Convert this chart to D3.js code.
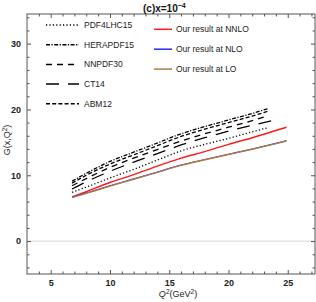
<!DOCTYPE html>
<html lang="en">
<head>
<meta charset="UTF-8">
<title>G(x,Q2)</title>
<script src="https://d3js.org/d3.v7.min.js"></script>
<style>
  body { margin: 0; background: #fff; }
  text { font-family: "Liberation Sans", Arial, sans-serif; }
</style>
</head>
<body>
<div id="chart"></div>
<script>
// data
var q2Pdf = [6.8, 8, 10, 12, 14, 16, 18, 20, 22, 23.3];
var pdf4lhc15 = [7.4, 8.2, 9.6, 10.9, 12.3, 13.7, 14.7, 15.6, 16.6, 17.2];
var herapdf15 = [9.1, 10.3, 12.1, 13.5, 14.9, 16.3, 17.4, 18.4, 19.4, 20.1];
var nnpdf30   = [8.4, 9.5, 11.2, 12.6, 13.9, 15.2, 16.3, 17.3, 18.3, 19.0];
var abm12     = [8.8, 10.0, 11.7, 13.1, 14.5, 15.9, 17.0, 18.0, 19.0, 19.7];
var q2Ct14 = [6.8, 8, 10, 12, 14, 16, 18, 20, 22, 24.2];
var ct14   = [7.9, 9.0, 10.6, 12.0, 13.3, 14.6, 15.7, 16.7, 17.6, 18.5];

var q2Ours = [6.8, 8, 10, 12, 14, 16, 18, 20, 22, 24, 24.9];
var nnlo = [6.7, 7.5, 8.9, 10.1, 11.4, 12.6, 13.6, 14.7, 15.7, 16.8, 17.3];
var nlo  = [6.65, 7.3, 8.4, 9.45, 10.5, 11.55, 12.4, 13.2, 14.0, 14.85, 15.25];
var lo   = [6.6, 7.25, 8.35, 9.4, 10.45, 11.5, 12.35, 13.15, 13.95, 14.8, 15.2];

var xTicks = [5, 10, 15, 20, 25];
var yTicks = [0, 10, 20, 30];

var pdfSeries = [
  {name: "PDF4LHC15", q: q2Pdf, g: pdf4lhc15, dash: "1.2,2.2"},
  {name: "HERAPDF15", q: q2Pdf, g: herapdf15, dash: "4,1.5,1.2,1.5"},
  {name: "NNPDF30",   q: q2Pdf, g: nnpdf30,   dash: "6,5"},
  {name: "CT14",      q: q2Ct14, g: ct14,     dash: "13,9"},
  {name: "ABM12",     q: q2Pdf, g: abm12,     dash: "4,2.2"}
];
var ourSeries = [
  {name: "Our result at NNLO", q: q2Ours, g: nnlo, color: "#ff1a1a"},
  {name: "Our result at NLO",  q: q2Ours, g: nlo,  color: "#2a2aff"},
  {name: "Our result at LO",   q: q2Ours, g: lo,   color: "#b07a3e"}
];

var W = 316, H = 302;
var mL = 27, mR = 315, mT = 14, mB = 274;

var svg = d3.select("#chart").append("svg")
  .attr("width", W).attr("height", H);

var x = d3.scaleLinear().domain([3, 27.3]).range([mL, mR]);
var y = d3.scaleLinear().domain([-5, 34.5]).range([mB, mT]);

// zero line
svg.append("line")
  .attr("x1", mL).attr("x2", mR)
  .attr("y1", y(0)).attr("y2", y(0))
  .attr("stroke", "#d8d8d8").attr("stroke-width", 1);

// frame ticks (all four sides, pointing in)
var xMinor = d3.range(4, 28, 1).filter(function(v) { return xTicks.indexOf(v) < 0; });
var yMinor = d3.range(-4, 35, 2).filter(function(v) { return yTicks.indexOf(v) < 0; });

function axis(gen, scale, major, minor, pos, labels) {
  var g = svg.append("g").attr("transform", pos);
  g.call(gen(scale).tickValues(major).tickSize(-4).tickPadding(6)
    .tickFormat(labels ? d3.format("d") : ""));
  g.append("g").call(gen(scale).tickValues(minor).tickSize(-2.5).tickFormat(""));
  g.selectAll(".domain").remove();
  g.selectAll("line").attr("stroke", "#555");
  g.selectAll("text").attr("fill", "#222").style("font-size", "9px").style("font-weight", "bold");
  return g;
}
axis(d3.axisBottom, x, xTicks, xMinor, "translate(0," + mB + ")", true);
axis(d3.axisTop, x, xTicks, xMinor, "translate(0," + mT + ")", false);
axis(d3.axisLeft, y, yTicks, yMinor, "translate(" + mL + ",0)", true);
axis(d3.axisRight, y, yTicks, yMinor, "translate(" + mR + ",0)", false);

svg.append("rect")
  .attr("x", mL).attr("y", mT)
  .attr("width", mR - mL).attr("height", mB - mT)
  .attr("fill", "none").attr("stroke", "#555").attr("stroke-width", 1);

var line = d3.line()
  .x(function(d) { return x(d[0]); })
  .y(function(d) { return y(d[1]); })
  .curve(d3.curveMonotoneX);

function pts(s) { return s.q.map(function(q, i) { return [q, s.g[i]]; }); }

// our results: NNLO, then NLO under LO
svg.append("path").attr("d", line(pts(ourSeries[0])))
  .attr("fill", "none").attr("stroke", ourSeries[0].color).attr("stroke-width", 1.4);
svg.append("path").attr("d", line(pts(ourSeries[1])))
  .attr("fill", "none").attr("stroke", ourSeries[1].color).attr("stroke-width", 1.1);
svg.append("path").attr("d", line(pts(ourSeries[2])))
  .attr("fill", "none").attr("stroke", ourSeries[2].color).attr("stroke-width", 1.4);

pdfSeries.forEach(function(s) {
  svg.append("path").attr("d", line(pts(s)))
    .attr("fill", "none").attr("stroke", "#000")
    .attr("stroke-width", 1.3).attr("stroke-dasharray", s.dash);
});

// legends
pdfSeries.forEach(function(s, i) {
  var ly = 25 + i * 19.7;
  svg.append("line").attr("x1", 46).attr("x2", 79).attr("y1", ly).attr("y2", ly)
    .attr("stroke", "#000").attr("stroke-width", 1.5).attr("stroke-dasharray", s.dash);
  svg.append("text").attr("x", 84).attr("y", ly + 3).text(s.name)
    .style("font-size", "8.5px").attr("fill", "#222");
});
ourSeries.forEach(function(s, i) {
  var ly = 29.3 + i * 19.9;
  svg.append("line").attr("x1", 154).attr("x2", 172).attr("y1", ly).attr("y2", ly)
    .attr("stroke", s.color).attr("stroke-width", 1.5);
  svg.append("text").attr("x", 176).attr("y", ly + 3).text(s.name)
    .style("font-size", "8.5px").attr("fill", "#222");
});

// title
var t = svg.append("text").attr("x", 143).attr("y", 12)
  .style("font-size", "10px").style("font-weight", "bold").attr("fill", "#111");
t.append("tspan").text("(c)x=10");
t.append("tspan").attr("dy", -4).style("font-size", "7px").text("\u22124");

// axis labels
var yl = svg.append("text").attr("transform", "translate(10,140) rotate(-90)")
  .attr("text-anchor", "middle").style("font-size", "9px").attr("fill", "#222");
yl.append("tspan").text("G(x,Q");
yl.append("tspan").attr("dy", -3).style("font-size", "6.5px").text("2");
yl.append("tspan").attr("dy", 3).text(")");

var xl = svg.append("text").attr("x", 178).attr("y", 297)
  .attr("text-anchor", "middle").style("font-size", "9px").attr("fill", "#222");
xl.append("tspan").style("font-style", "italic").text("Q");
xl.append("tspan").attr("dy", -3).style("font-size", "6.5px").text("2");
xl.append("tspan").attr("dy", 3).text("(GeV");
xl.append("tspan").attr("dy", -3).style("font-size", "6.5px").text("2");
xl.append("tspan").attr("dy", 3).text(")");
</script>
</body>
</html>
